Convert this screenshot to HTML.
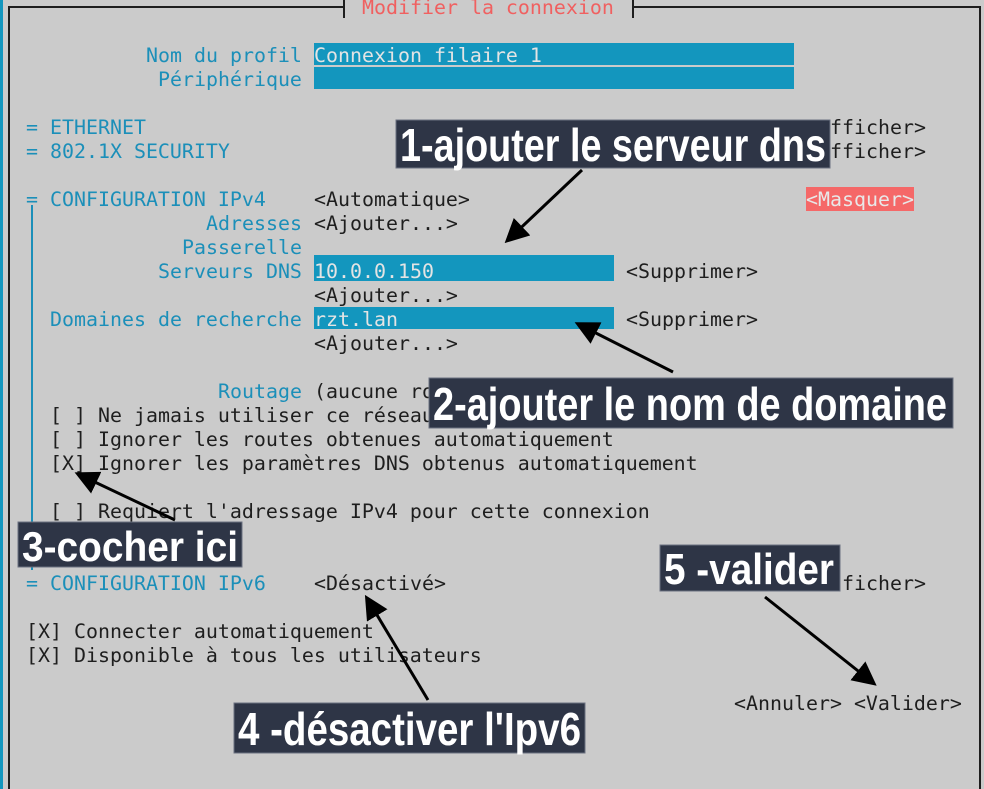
<!DOCTYPE html>
<html><head><meta charset="utf-8"><style>
html,body{margin:0;padding:0}
body{width:984px;height:789px;background:#cbcbcb;position:relative;overflow:hidden;font-family:"DejaVu Sans Mono","Liberation Mono",monospace;font-size:19.93px}
.t{position:absolute;white-space:pre;line-height:24px;height:24px;margin-top:1px}
.b{color:#1b8fb9}.k{color:#1e1e1e}.w{color:#e4e4e4}
.f{position:absolute;background:#1396be}
</style></head><body>
<div style="position:absolute;left:0;top:0;width:3px;height:789px;background:#1396be"></div>
<div style="position:absolute;left:8px;top:6px;width:336px;height:2px;background:#1e1e1e"></div>
<div style="position:absolute;left:632px;top:6px;width:349px;height:2px;background:#1e1e1e"></div>
<div style="position:absolute;left:8px;top:6px;width:2px;height:783px;background:#1e1e1e"></div>
<div style="position:absolute;left:979px;top:6px;width:2px;height:783px;background:#1e1e1e"></div>
<div style="position:absolute;left:343px;top:0;width:2px;height:18px;background:#1e1e1e"></div>
<div style="position:absolute;left:632px;top:0;width:2px;height:18px;background:#1e1e1e"></div>
<div class="t" style="left:362px;top:-5px;color:#f06060">Modifier la connexion</div>
<div style="position:absolute;left:31px;top:205px;width:2px;height:365px;background:#1b8fb9"></div>

<div class="f" style="left:314px;top:43px;width:480px;height:22px"></div>
<div class="f" style="left:314px;top:67px;width:480px;height:22px"></div>
<div class="f" style="left:314px;top:255px;width:300px;height:26px"></div>
<div class="f" style="left:314px;top:307px;width:300px;height:22px"></div>
<div style="position:absolute;left:806px;top:187px;width:108px;height:24px;background:#f56868"></div>

<div class="t b" style="left:146px;top:43px">Nom du profil</div>
<div class="t w" style="left:314px;top:43px">Connexion filaire 1</div>
<div class="t b" style="left:158px;top:67px">Périphérique</div>
<div class="t b" style="left:26px;top:115px">= ETHERNET</div>
<div class="t k" style="left:830px;top:115px">fficher&gt;</div>
<div class="t b" style="left:26px;top:139px">= 802.1X SECURITY</div>
<div class="t k" style="left:830px;top:139px">fficher&gt;</div>
<div class="t b" style="left:26px;top:187px">= CONFIGURATION IPv4</div>
<div class="t k" style="left:314px;top:187px">&lt;Automatique&gt;</div>
<div class="t" style="left:806px;top:187px;color:#e8e8e8">&lt;Masquer&gt;</div>
<div class="t b" style="left:206px;top:211px">Adresses</div>
<div class="t k" style="left:314px;top:211px">&lt;Ajouter...&gt;</div>
<div class="t b" style="left:182px;top:235px">Passerelle</div>
<div class="t b" style="left:158px;top:259px">Serveurs DNS</div>
<div class="t w" style="left:314px;top:259px">10.0.0.150</div>
<div class="t k" style="left:626px;top:259px">&lt;Supprimer&gt;</div>
<div class="t k" style="left:314px;top:283px">&lt;Ajouter...&gt;</div>
<div class="t b" style="left:50px;top:307px">Domaines de recherche</div>
<div class="t w" style="left:314px;top:307px">rzt.lan</div>
<div class="t k" style="left:626px;top:307px">&lt;Supprimer&gt;</div>
<div class="t k" style="left:314px;top:331px">&lt;Ajouter...&gt;</div>
<div class="t b" style="left:218px;top:379px">Routage</div>
<div class="t k" style="left:314px;top:379px">(aucune route)</div>
<div class="t k" style="left:50px;top:403px">[ ] Ne jamais utiliser ce réseau</div>
<div class="t k" style="left:50px;top:427px">[ ] Ignorer les routes obtenues automatiquement</div>
<div class="t k" style="left:50px;top:451px">[X] Ignorer les paramètres DNS obtenus automatiquement</div>
<div class="t k" style="left:50px;top:499px">[ ] Requiert l'adressage IPv4 pour cette connexion</div>
<div class="t b" style="left:26px;top:571px">= CONFIGURATION IPv6</div>
<div class="t k" style="left:314px;top:571px">&lt;Désactivé&gt;</div>
<div class="t k" style="left:830px;top:571px">fficher&gt;</div>
<div class="t k" style="left:26px;top:619px">[X] Connecter automatiquement</div>
<div class="t k" style="left:26px;top:643px">[X] Disponible à tous les utilisateurs</div>
<div class="t k" style="left:734px;top:691px">&lt;Annuler&gt; &lt;Valider&gt;</div>

<svg style="position:absolute;left:0;top:0" width="984" height="789" viewBox="0 0 984 789">
<defs><marker id="a" markerWidth="8" markerHeight="8" refX="6" refY="4" orient="auto" markerUnits="strokeWidth"><path d="M0,0 L8,4 L0,8 Z" fill="#000"/></marker></defs>
<g fill="#2e3546" stroke="#6b7180" stroke-width="1">
<rect x="396" y="120" width="434" height="48"/>
<rect x="429" y="378" width="524" height="50"/>
<rect x="18" y="522" width="224" height="45"/>
<rect x="234" y="703" width="351" height="50"/>
<rect x="660" y="545" width="180" height="46"/>
</g>
<g fill="#fff" font-family="'Liberation Sans Narrow','Liberation Sans',sans-serif" font-weight="bold" font-size="46">
<text x="400" y="161" textLength="426" lengthAdjust="spacingAndGlyphs">1-ajouter le serveur dns</text>
<text x="433" y="420" textLength="514" lengthAdjust="spacingAndGlyphs">2-ajouter le nom de domaine</text>
<text x="22" y="561" font-size="42" textLength="216" lengthAdjust="spacingAndGlyphs">3-cocher ici</text>
<text x="238" y="745" textLength="343" lengthAdjust="spacingAndGlyphs">4 -désactiver l'Ipv6</text>
<text x="664" y="584" font-size="44" textLength="170" lengthAdjust="spacingAndGlyphs">5 -valider</text>
</g>
<g stroke="#000" stroke-width="3" marker-end="url(#a)">
<line x1="582" y1="170" x2="509" y2="239"/>
<line x1="673" y1="372" x2="580" y2="325"/>
<line x1="175" y1="520" x2="80" y2="475"/>
<line x1="428" y1="700" x2="368" y2="600"/>
<line x1="765" y1="597" x2="872" y2="682"/>
</g>
</svg>
</body></html>
